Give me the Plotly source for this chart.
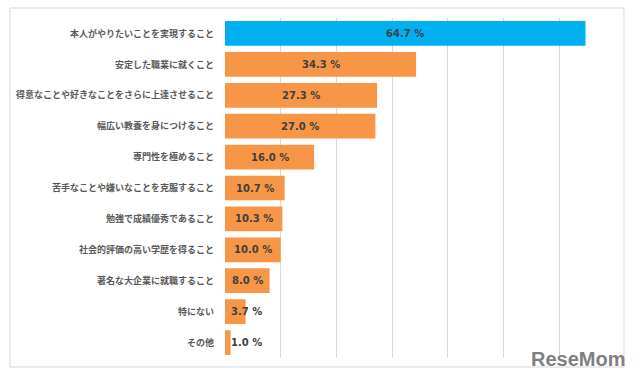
import plotly.graph_objects as go

categories = [
    "本人がやりたいことを実現すること",
    "安定した職業に就くこと",
    "得意なことや好きなことをさらに上達させること",
    "幅広い教養を身につけること",
    "専門性を極めること",
    "苦手なことや嫌いなことを克服すること",
    "勉強で成績優秀であること",
    "社会的評価の高い学歴を得ること",
    "著名な大企業に就職すること",
    "特にない",
    "その他",
]
values = [64.7, 34.3, 27.3, 27.0, 16.0, 10.7, 10.3, 10.0, 8.0, 3.7, 1.0]
colors = ["#00B0F0"] + ["#F79646"] * 10

W, H = 640, 382
L, R, T, B = 225, 25, 18, 24
pw, ph = W - L - R, H - T - B

fig = go.Figure()
fig.add_trace(go.Bar(
    x=values, y=categories, orientation="h",
    marker=dict(color=colors, line=dict(width=0)),
    width=0.8, hoverinfo="skip",
))

for c, v in zip(categories, values):
    px_half = v / 70 * pw / 2
    if px_half < 22:
        fig.add_annotation(x=0, y=c, xref="x", yref="y", text=f"{v:.1f} %",
                           showarrow=False, xanchor="left", xshift=4,
                           font=dict(family="DejaVu Sans", size=10, color="#404040", weight="bold"))
    else:
        fig.add_annotation(x=v / 2, y=c, xref="x", yref="y", text=f"{v:.1f} %",
                           showarrow=False, xanchor="center",
                           font=dict(family="DejaVu Sans", size=10, color="#404040", weight="bold"))

def px2paper_x(px):
    return (px - L) / pw

def px2paper_y(py):
    return (H - B - py) / ph

fig.add_shape(type="rect", xref="paper", yref="paper",
              x0=px2paper_x(10), x1=px2paper_x(624),
              y0=px2paper_y(367), y1=px2paper_y(8),
              line=dict(color="#D9D9D9", width=1), fillcolor="rgba(0,0,0,0)", layer="below")

fig.add_annotation(x=px2paper_x(578), y=px2paper_y(359), xref="paper", yref="paper",
                   xanchor="center", yanchor="middle",
                   text="<b>ReseMom</b>", showarrow=False,
                   font=dict(family="Liberation Sans", size=20, color="#7F7F7F"))

fig.update_layout(
    width=W, height=H,
    margin=dict(l=L, r=R, t=T, b=B, autoexpand=False),
    paper_bgcolor="white", plot_bgcolor="white",
    showlegend=False, bargap=0.2,
    xaxis=dict(range=[0, 70], dtick=10, showgrid=True, gridcolor="#D9D9D9", gridwidth=1,
               showticklabels=False, zeroline=False, showline=False, fixedrange=True,
               automargin=False),
    yaxis=dict(autorange="reversed", showgrid=False, zeroline=False, showline=False,
               ticks="", ticklabelstandoff=10, automargin=False, fixedrange=True,
               tickfont=dict(family="Noto Sans CJK JP", size=9, color="#595959", weight="bold")),
)

fig.write_html("out.html", config={"displayModeBar": False},
               post_script="document.body.style.margin='0';document.body.style.overflow='hidden';")
